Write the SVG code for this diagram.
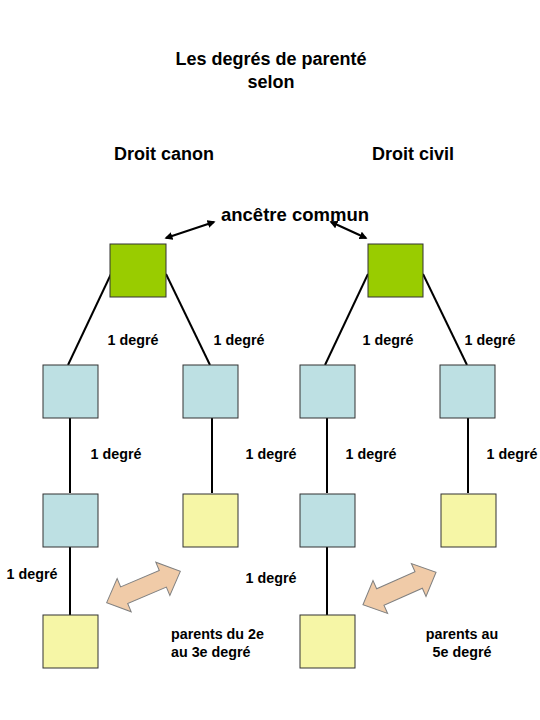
<svg xmlns="http://www.w3.org/2000/svg" width="540" height="720" viewBox="0 0 540 720">
<defs>
<style>
text{font-family:"Liberation Sans",Arial,sans-serif;font-weight:bold;fill:#000}
.t{font-size:18px;text-anchor:middle}
.l{font-size:14.3px;text-anchor:middle}
.g{fill:#99CC00;stroke:#333;stroke-width:1}
.b{fill:#BDE0E3;stroke:#333;stroke-width:1}
.y{fill:#F6F6A6;stroke:#333;stroke-width:1}
.c line{stroke:#000;stroke-width:2}
.a{stroke:#000;stroke-width:2;marker-start:url(#ah);marker-end:url(#ah)}
.blk{fill:#F0CBA8;stroke:#808080;stroke-width:1}
</style>
<marker id="ah" viewBox="0 0 10 10" refX="8" refY="5" markerWidth="4" markerHeight="4" orient="auto-start-reverse"><path d="M0,0 L10,5 L0,10 z" fill="#000"/></marker>
</defs>
<rect width="540" height="720" fill="#fff"/>
<text class="t" x="271" y="65">Les degrés de parenté</text>
<text class="t" x="271" y="88">selon</text>
<text class="t" x="164" y="160">Droit canon</text>
<text class="t" x="413" y="160">Droit civil</text>
<text x="295" y="221" style="font-size:18.5px;text-anchor:middle">ancêtre commun</text>
<g class="c" id="connectors">
<line x1="111" y1="274" x2="68" y2="365"/>
<line x1="166" y1="274" x2="210" y2="365"/>
<line x1="70" y1="418" x2="70" y2="493"/>
<line x1="70" y1="547" x2="70" y2="615"/>
<line x1="212" y1="418" x2="212" y2="493"/>
<line x1="368" y1="274" x2="325" y2="365"/>
<line x1="423" y1="274" x2="467" y2="365"/>
<line x1="327" y1="418" x2="327" y2="493"/>
<line x1="327" y1="547" x2="327" y2="615"/>
<line x1="468" y1="418" x2="468" y2="493"/>
<line class="a" x1="166" y1="238" x2="214" y2="222"/>
<line class="a" x1="331" y1="222" x2="366" y2="238"/>
</g>
<g id="canon-root"><rect class="g" x="110" y="244" width="56" height="53"/></g>
<g id="canon-a1"><rect class="b" x="43" y="365" width="55" height="53"/></g>
<g id="canon-b1"><rect class="b" x="183" y="365" width="55" height="53"/></g>
<g id="canon-a2"><rect class="b" x="43" y="494" width="55" height="53"/></g>
<g id="canon-b2"><rect class="y" x="183" y="494" width="55" height="53"/></g>
<g id="canon-a3"><rect class="y" x="43" y="615" width="55" height="53"/></g>
<g id="civil-root"><rect class="g" x="368" y="244" width="55" height="53"/></g>
<g id="civil-a1"><rect class="b" x="300" y="365" width="55" height="53"/></g>
<g id="civil-b1"><rect class="b" x="440" y="365" width="55" height="53"/></g>
<g id="civil-a2"><rect class="b" x="300" y="494" width="55" height="53"/></g>
<g id="civil-b2"><rect class="y" x="441" y="494" width="55" height="53"/></g>
<g id="civil-a3"><rect class="y" x="300" y="615" width="55" height="53"/></g>
<g id="labels">
<text class="l" x="133" y="345">1 degré</text>
<text class="l" x="239" y="345">1 degré</text>
<text class="l" x="388" y="345">1 degré</text>
<text class="l" x="490" y="345">1 degré</text>
<text class="l" x="116" y="459">1 degré</text>
<text class="l" x="271" y="459">1 degré</text>
<text class="l" x="371" y="459">1 degré</text>
<text class="l" x="512" y="459">1 degré</text>
<text class="l" x="32" y="579">1 degré</text>
<text class="l" x="271" y="583">1 degré</text>
<text class="l" x="171" y="639" style="text-anchor:start">parents du 2e</text>
<text class="l" x="171" y="657" style="text-anchor:start">au 3e degré</text>
<text class="l" x="462" y="639">parents au</text>
<text class="l" x="462" y="657">5e degré</text>
</g>
<g id="arrow-canon"><polygon class="blk" transform="translate(143.5,587) rotate(-23)" points="-40,0 -21,-18 -21,-9 21,-9 21,-18 40,0 21,18 21,9 -21,9 -21,18"/></g>
<g id="arrow-civil"><polygon class="blk" transform="translate(399.5,588.5) rotate(-24)" points="-40,0 -21,-18 -21,-9 21,-9 21,-18 40,0 21,18 21,9 -21,9 -21,18"/></g>
</svg>
